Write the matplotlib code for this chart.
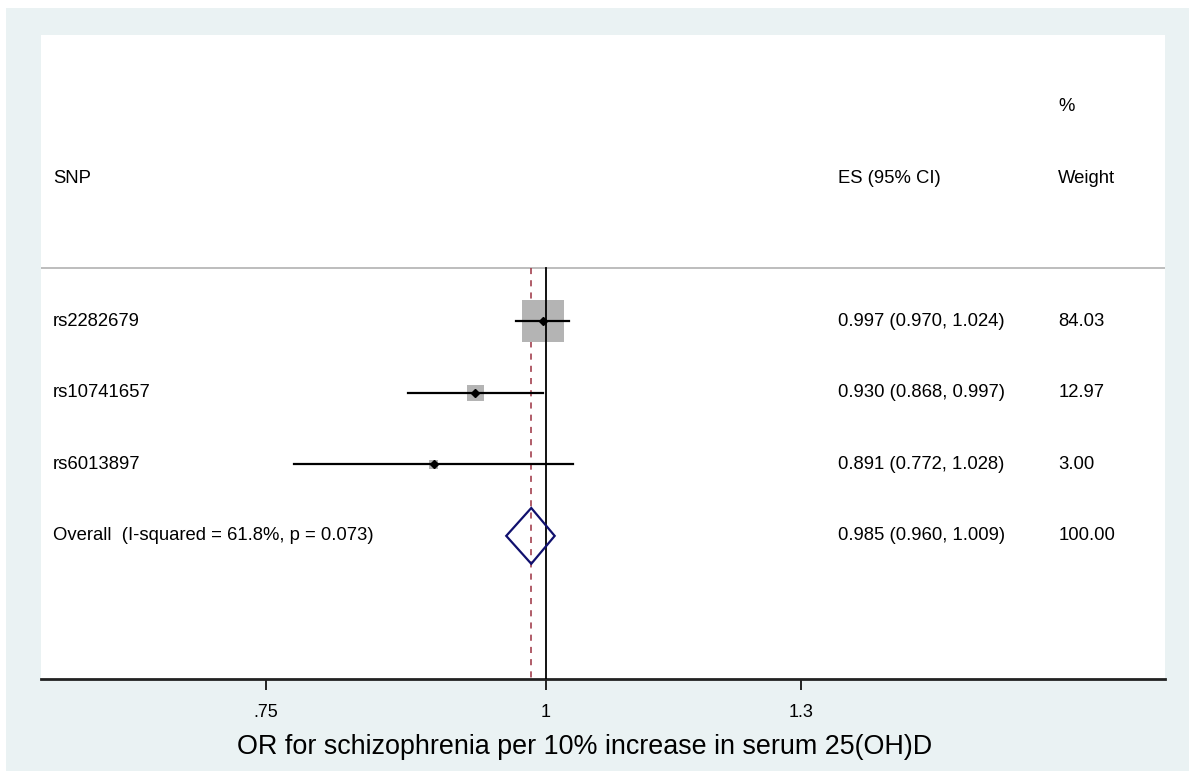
import numpy as np
import matplotlib
matplotlib.use("Agg")
import matplotlib.pyplot as plt
from matplotlib.patches import Polygon, Rectangle
import matplotlib.transforms as mtransforms

plt.rcParams["font.family"] = ["Liberation Sans", "DejaVu Sans"]

# data
snps = ["rs2282679", "rs10741657", "rs6013897"]
es = [0.997, 0.930, 0.891]
ci_low = [0.970, 0.868, 0.772]
ci_high = [1.024, 0.997, 1.028]
weights = [84.03, 12.97, 3.00]

overall_label = "Overall  (I-squared = 61.8%, p = 0.073)"
overall_es = 0.985
overall_low = 0.960
overall_high = 1.009
overall_weight = 100.00

xticks = [0.75, 1, 1.3]
xtick_labels = [".75", "1", "1.3"]

W, H = 1189, 771
fig = plt.figure(figsize=(W / 100, H / 100), dpi=100, facecolor="white")
bg = "#EAF2F3"
fig.patches.append(Rectangle((6 / W, -0.01), 1.01, 1.01 - 8 / H, lw=0,
                             transform=fig.transFigure, facecolor=bg, zorder=-10))

ax = fig.add_axes([41 / W, (H - 679) / H, (1165 - 41) / W, (679 - 35) / H])
ax.set_zorder(1)
ax.set_facecolor("white")
ax.set_xscale("log")
ax.set_xlim(0.5952, 1.889)
ax.set_ylim(6.0, -3.0)

for s in ["top", "left", "right"]:
    ax.spines[s].set_visible(False)
ax.spines["bottom"].set_linewidth(2)
ax.spines["bottom"].set_color("#222222")
ax.set_yticks([])
ax.set_xticks(xticks)
ax.set_xticklabels(xtick_labels)
ax.xaxis.set_minor_locator(matplotlib.ticker.NullLocator())
ax.tick_params(axis="x", length=8, width=1.2, labelsize=13, pad=10, colors="black")
ax.set_xlabel("OR for schizophrenia per 10% increase in serum 25(OH)D",
              fontsize=19.4, labelpad=9)
ax.xaxis.label.set_x(0.484)

rows = np.arange(1, len(snps) + 1)
overall_row = len(snps) + 1

# separator and reference lines
ax.axhline(0.25, color="#bdbdbd", lw=1.4)
ax.plot([1, 1], [0.25, 6.0], color="black", lw=1.3, zorder=3)
ax.plot([overall_es, overall_es], [0.25, 6.0], color="#9b3040", lw=1.1,
        ls=(0, (4, 4)), zorder=2)

# boxes sized by weight
side_px = np.maximum(42 * np.sqrt(np.array(weights) / max(weights)), 9)
ax.scatter(es, rows, marker="s", s=(side_px * 0.72) ** 2, color="#b4b4b4",
           edgecolors="none", zorder=2)
for r, lo, hi in zip(rows, ci_low, ci_high):
    ax.plot([lo, hi], [r, r], color="black", lw=1.6, zorder=4)
ax.plot(es, rows, ls="none", marker="D", ms=4.5, color="black", zorder=5)

# overall diamond
dh = 0.39
diamond = Polygon([[overall_low, overall_row], [overall_es, overall_row - dh],
                   [overall_high, overall_row], [overall_es, overall_row + dh]],
                  closed=True, fill=False, edgecolor="#10106e", lw=1.6, zorder=6)
ax.add_patch(diamond)

# text columns
tr = mtransforms.blended_transform_factory(ax.transAxes, ax.transData)
fs = 13.3
x_lab, x_es, x_w = 0.0107, 0.709, 0.905
ax.text(x_lab, -1, "SNP", transform=tr, fontsize=fs, va="center")
ax.text(x_es, -1, "ES (95% CI)", transform=tr, fontsize=fs, va="center")
ax.text(x_w, -2, "%", transform=tr, fontsize=fs, va="center")
ax.text(x_w, -1, "Weight", transform=tr, fontsize=fs, va="center")

for r, name, e, lo, hi, w in zip(rows, snps, es, ci_low, ci_high, weights):
    ax.text(x_lab, r, name, transform=tr, fontsize=fs, va="center")
    ax.text(x_es, r, f"{e:.3f} ({lo:.3f}, {hi:.3f})", transform=tr, fontsize=fs, va="center")
    ax.text(x_w, r, f"{w:.2f}", transform=tr, fontsize=fs, va="center")

ax.text(x_lab, overall_row, overall_label, transform=tr, fontsize=fs, va="center")
ax.text(x_es, overall_row, f"{overall_es:.3f} ({overall_low:.3f}, {overall_high:.3f})",
        transform=tr, fontsize=fs, va="center")
ax.text(x_w, overall_row, f"{overall_weight:.2f}", transform=tr, fontsize=fs, va="center")

fig.savefig("out.png", dpi=100, facecolor=fig.get_facecolor())
